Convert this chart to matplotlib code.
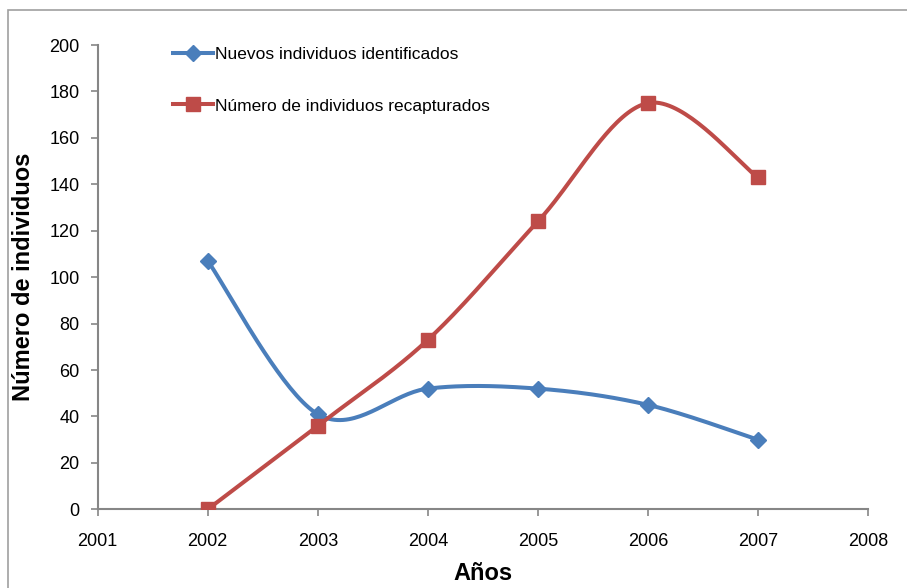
import numpy as np
import matplotlib.pyplot as plt
from matplotlib.lines import Line2D
from matplotlib.patches import Rectangle

years = [2002, 2003, 2004, 2005, 2006, 2007]
nuevos = [107, 41, 52, 52, 45, 30]
recapturados = [0, 36, 73, 124, 175, 143]

label_nuevos = "Nuevos individuos identificados"
label_recap = "Número de individuos recapturados"

blue = "#4A7EBB"
red = "#BE4B48"
axis_gray = "#868686"


def smooth(xs, ys, n=40):
    # cubic Bezier through each point, Catmull-Rom style tangents
    p = np.column_stack([xs, ys]).astype(float)
    p_ext = np.vstack([p[0], p, p[-1]])
    out = []
    t = np.linspace(0, 1, n)[:, None]
    for i in range(len(p) - 1):
        p0, p1, p2, p3 = p_ext[i], p_ext[i + 1], p_ext[i + 2], p_ext[i + 3]
        c1 = p1 + (p2 - p0) / 6
        c2 = p2 - (p3 - p1) / 6
        seg = ((1 - t) ** 3) * p1 + 3 * ((1 - t) ** 2) * t * c1 \
            + 3 * (1 - t) * t ** 2 * c2 + t ** 3 * p2
        out.append(seg if i == 0 else seg[1:])
    seg = np.vstack(out)
    return seg[:, 0], seg[:, 1]


plt.rcParams['font.family'] = ['Liberation Sans', 'DejaVu Sans']

fig = plt.figure(figsize=(9.07, 5.88), dpi=100)
fig.patches.append(Rectangle((8 / 907, -0.1), 1.2, 1 - 10 / 588 + 0.1,
                             transform=fig.transFigure, fill=False,
                             edgecolor="#a0a0a0", linewidth=1.2))

ax = fig.add_axes([0.1077, 0.1338, 0.8493, 0.7896])

lw = 2.9
sx, sy = smooth(years, nuevos)
ax.plot(sx, sy, color=blue, lw=lw, solid_capstyle='round', zorder=3)
ax.plot(years, nuevos, ls='none', marker='D', ms=8.5, color=blue, zorder=4)

sx, sy = smooth(years, recapturados)
ax.plot(sx, sy, color=red, lw=lw, solid_capstyle='round', zorder=3)
ax.plot(years, recapturados, ls='none', marker='s', ms=10, color=red, zorder=4)

ax.set_xlim(2001, 2008)
ax.set_ylim(0, 200)
ax.set_xticks(range(2001, 2009))
ax.set_yticks(range(0, 201, 20))
ax.tick_params(axis='both', colors=axis_gray, labelcolor='black',
               labelsize=13, length=5, width=1.2)
ax.tick_params(axis='x', pad=12)
ax.tick_params(axis='y', pad=8)
for side in ('top', 'right'):
    ax.spines[side].set_visible(False)
for side in ('left', 'bottom'):
    ax.spines[side].set_color(axis_gray)
    ax.spines[side].set_linewidth(1.5)

ax.set_ylabel("Número de individuos", fontsize=17, fontweight='bold', labelpad=10)
ax.set_xlabel("Años", fontsize=17, fontweight='bold', labelpad=9)

handles = [
    Line2D([], [], color=blue, lw=lw, marker='D', ms=8.5),
    Line2D([], [], color=red, lw=lw, marker='s', ms=10),
]
leg = ax.legend(handles, [label_nuevos, label_recap], loc='upper left',
                bbox_to_anchor=(0.077, 1.03), frameon=False,
                prop={'size': 12.5},
                handlelength=2.35, handletextpad=0.1, labelspacing=2.1)

fig.savefig("out.png", dpi=100)
